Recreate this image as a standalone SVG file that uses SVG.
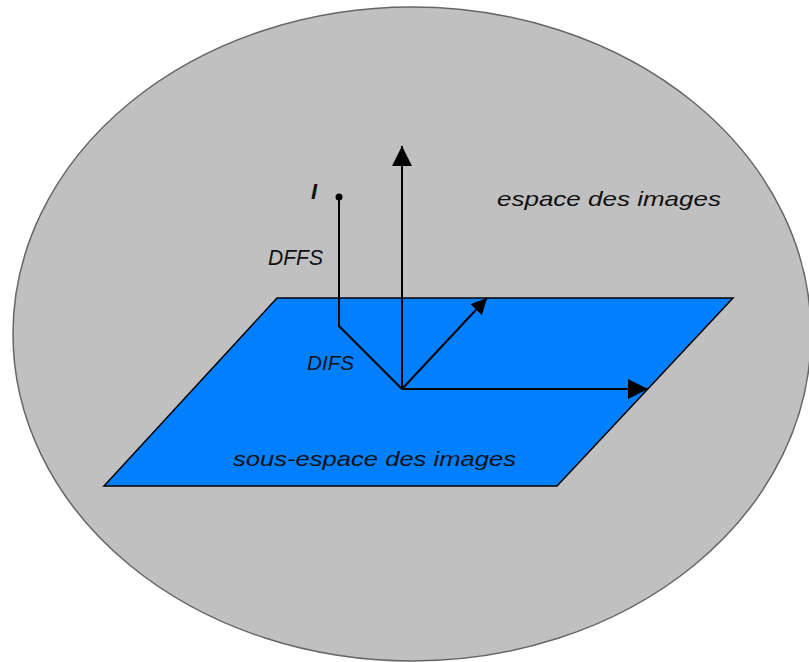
<svg xmlns="http://www.w3.org/2000/svg" width="809" height="662" viewBox="0 0 809 662">
<style>
.lbl{font-family:"Liberation Sans",Arial,sans-serif;font-style:italic;fill:#111;}
.ln{stroke:#000;stroke-width:2;fill:none;}
</style>
<defs>
<marker id="ah" viewBox="0 0 20 20" refX="20" refY="10" markerWidth="20" markerHeight="20" markerUnits="userSpaceOnUse" orient="auto">
<path d="M0,0 L20,10 L0,20 Z" fill="#000"/>
</marker>
<marker id="ahs" viewBox="0 0 16 16" refX="16" refY="8" markerWidth="16" markerHeight="16" markerUnits="userSpaceOnUse" orient="auto">
<path d="M0,0 L16,8 L0,16 Z" fill="#000"/>
</marker>
</defs>
<rect width="809" height="662" fill="#fff"/>
<g id="espace">
<ellipse cx="412" cy="334" rx="399" ry="327" fill="#c0c0c0" stroke="#666" stroke-width="1.5"/>
<text class="lbl" x="497" y="206" font-size="21" textLength="224" lengthAdjust="spacingAndGlyphs">espace des images</text>
</g>
<g id="sous-espace">
<polygon points="277,298 733,298 557,486 104,486" fill="#0080ff" stroke="#000" stroke-width="1.5"/>
<text class="lbl" x="233" y="466" font-size="21" textLength="283" lengthAdjust="spacingAndGlyphs">sous-espace des images</text>
</g>
<g id="point-I">
<circle cx="339" cy="197" r="3.5" fill="#000"/>
<text class="lbl" x="311" y="199" font-size="22" font-weight="bold">I</text>
</g>
<g id="labels">
<text class="lbl" x="268" y="265" font-size="22" textLength="55" lengthAdjust="spacingAndGlyphs">DFFS</text>
<text class="lbl" x="307" y="370" font-size="21" textLength="47" lengthAdjust="spacingAndGlyphs">DIFS</text>
</g>
<g id="connectors">
<polyline class="ln" points="339,197 339,326 402,389"/>
<line class="ln" x1="402" y1="389" x2="402" y2="146" marker-end="url(#ah)"/>
<line class="ln" x1="402" y1="389" x2="648" y2="389" marker-end="url(#ah)"/>
<line class="ln" x1="402" y1="389" x2="487" y2="298" marker-end="url(#ahs)"/>
</g>
</svg>
